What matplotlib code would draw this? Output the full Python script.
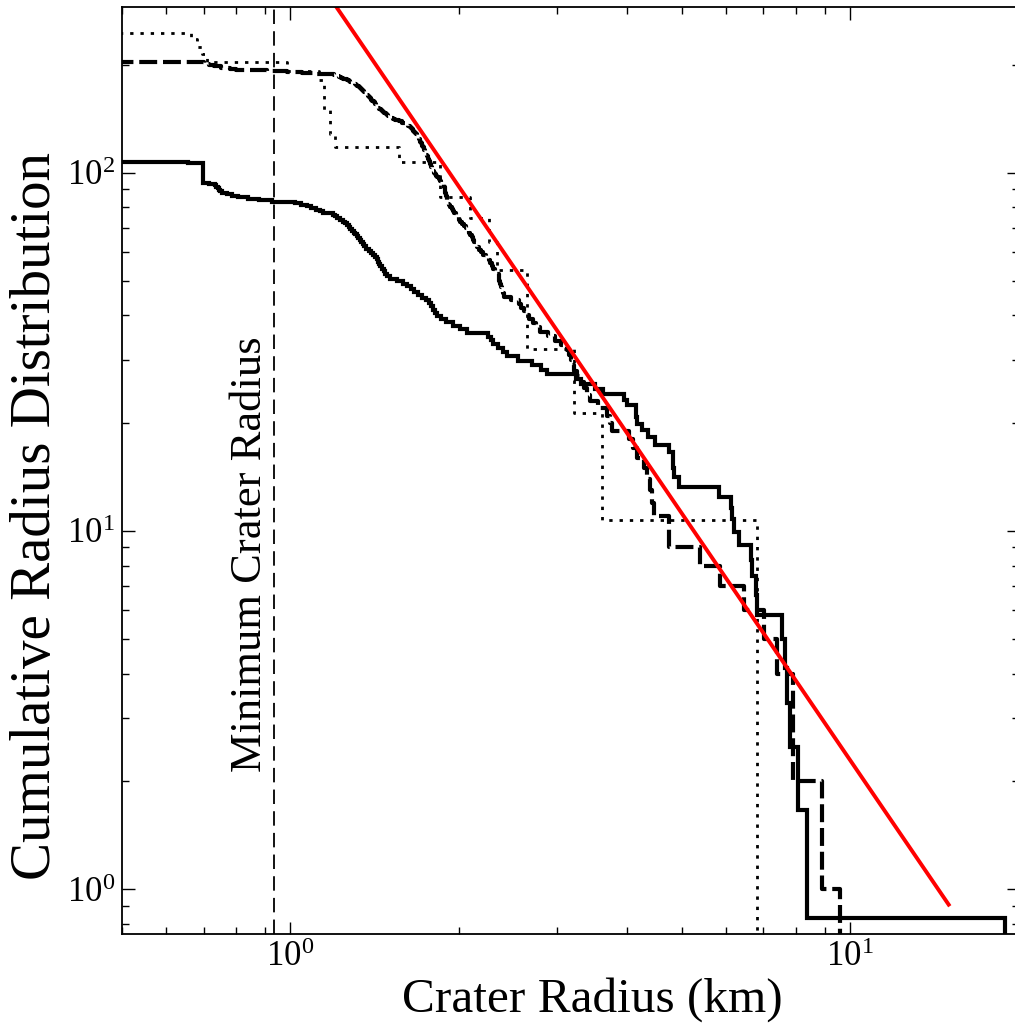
import numpy as np
import matplotlib
matplotlib.use("Agg")
import matplotlib.pyplot as plt

plt.rcParams['font.family'] = ['Liberation Serif', 'DejaVu Serif']
plt.rcParams['mathtext.fontset'] = 'custom'
plt.rcParams['mathtext.rm'] = 'Liberation Serif'
plt.rcParams['mathtext.it'] = 'Liberation Serif:italic'
plt.rcParams['mathtext.bf'] = 'Liberation Serif:bold'

# ---------------- data (crater radii in km) ----------------
solid_radii = [0.657] + [0.697] * 15 + [
    0.715, 0.733, 0.737, 0.741, 0.745, 0.749, 0.753, 0.77, 0.785, 0.805, 0.84, 0.88, 0.925,
    1.02, 1.045, 1.07, 1.09, 1.11, 1.13, 1.145, 1.19, 1.20, 1.21, 1.225,
    1.24, 1.25, 1.26, 1.27, 1.28, 1.29, 1.297, 1.305, 1.315, 1.322, 1.33, 1.338, 1.345, 1.352,
    1.365, 1.38, 1.39, 1.405, 1.415, 1.425, 1.433, 1.44, 1.448, 1.458, 1.468, 1.478, 1.488,
    1.505, 1.55, 1.59, 1.615, 1.64, 1.66, 1.69, 1.72, 1.75, 1.77, 1.785, 1.80, 1.815, 1.828,
    1.86, 1.90, 1.95, 2.01, 2.065, 2.25, 2.28, 2.305, 2.35, 2.40, 2.435, 2.55, 2.70, 2.80, 2.87,
    3.24, 3.31, 3.50, 3.62, 3.95, 3.99, 4.14, 4.15, 4.16, 4.25, 4.35, 4.48, 4.75, 4.82, 4.83,
    4.836, 4.95, 5.84, 6.12, 6.149, 6.20, 6.318, 6.65, 6.674, 6.78, 6.813, 7.55, 7.65, 7.709,
    7.815, 8.054, 8.369, 18.92]
solid_scale = 0.83

dashed_radii = [
    0.70, 0.70, 0.70, 0.715, 0.73, 0.74, 0.75, 0.75, 0.78, 0.80, 0.825, 0.909, 0.987, 1.05, 1.10,
    1.15, 1.195, 1.21, 1.22, 1.23, 1.24, 1.25, 1.26, 1.27, 1.28, 1.297,
    1.303, 1.309, 1.315, 1.32, 1.326, 1.332, 1.338, 1.344, 1.35, 1.355, 1.36, 1.366, 1.371,
    1.376, 1.38, 1.385, 1.39, 1.395, 1.40, 1.405, 1.41, 1.414, 1.418, 1.423, 1.428,
    1.435, 1.442, 1.45, 1.457, 1.464, 1.472, 1.479, 1.487, 1.494, 1.50, 1.509,
    1.525, 1.54, 1.56, 1.58, 1.60, 1.616,
    1.625, 1.632, 1.64, 1.648, 1.655, 1.662, 1.67, 1.677, 1.684,
    1.688, 1.693, 1.697, 1.702, 1.706, 1.71, 1.715, 1.72, 1.724, 1.729, 1.733, 1.738, 1.742,
    1.746, 1.75, 1.755, 1.759, 1.763, 1.768, 1.772, 1.777, 1.781, 1.786, 1.79, 1.795, 1.799, 1.803,
    1.81, 1.82, 1.83, 1.84, 1.85, 1.86, 1.87, 1.878,
    1.882, 1.885, 1.889, 1.892, 1.896, 1.90, 1.903, 1.907, 1.91, 1.914, 1.918,
    1.93, 1.94, 1.95, 1.96, 1.975, 1.985, 1.998,
    2.01, 2.025, 2.04, 2.055, 2.07, 2.082,
    2.095, 2.107, 2.12, 2.132, 2.145, 2.157, 2.169,
    2.19, 2.21, 2.235, 2.26, 2.275, 2.29, 2.305, 2.32, 2.34, 2.355,
    2.362, 2.37, 2.378, 2.387, 2.395, 2.404, 2.48, 2.557, 2.58, 2.61, 2.64, 2.664,
    2.71, 2.75, 2.796, 2.88, 2.973, 3.04, 3.12, 3.15, 3.17, 3.19, 3.205, 3.25, 3.30, 3.341,
    3.39, 3.433, 3.55, 3.678, 3.72, 3.753, 4.019, 4.09, 4.16, 4.274, 4.33, 4.394, 4.43, 4.454,
    4.738, 4.738, 5.396, 5.860, 6.451, 7.003, 7.399, 7.90, 7.90, 8.90, 9.60]
dashed_scale = 1.0

dotted_radii = [0.665, 0.68, 0.695, 0.71, 0.985, 1.123, 1.146, 1.146, 1.146, 1.179, 1.179,
                1.203, 1.561, 1.853, 1.853, 2.096, 2.260, 2.339, 2.647, 2.647, 3.205, 3.603, 6.83]
dotted_scale = 10.7

fit_amplitude = 447.0
fit_slope = -2.29
fit_range = [1.0, 15.0]

min_crater_radius = 0.933
curve_start = 0.4

xlim = (0.5, 20.0)
ylim = (0.75, 290.0)


def cumulative(radii, scale):
    r = np.sort(np.asarray(radii, dtype=float))
    n = len(r)
    xs = np.concatenate([[curve_start], r])
    ys = scale * (n - np.arange(n + 1))
    return xs, ys


fig = plt.figure(figsize=(10.15, 10.27), dpi=100)
ax = fig.add_axes([122 / 1015, 93 / 1027, (1018.6 - 122) / 1015, 927 / 1027])
ax.set_xscale('log', nonpositive='clip')
ax.set_yscale('log', nonpositive='clip')

x, y = cumulative(solid_radii, solid_scale)
ax.step(x, y, where='post', color='black', lw=3.0, solid_joinstyle='miter')
x, y = cumulative(dashed_radii, dashed_scale)
ax.step(x, y, where='post', color='black', lw=3.0, linestyle=(0, (4.3, 1.4)))
x, y = cumulative(dotted_radii, dotted_scale)
ax.step(x, y, where='post', color='black', lw=2.0, linestyle=(0, (1.2, 2.5)))

fx = np.array(fit_range)
ax.plot(fx, fit_amplitude * fx ** fit_slope, color='red', lw=2.8)

ax.axvline(min_crater_radius, color='black', lw=1.3, linestyle=(0, (8, 4)))
ax.text(0.845, 8.64, 'Minimum Crater Radius', rotation=90, ha='center', va='center',
        fontsize=32)

ax.set_xlim(*xlim)
ax.set_ylim(*ylim)
ax.set_xlabel('Crater Radius (km)', fontsize=35.5, va='center')
ax.set_ylabel('Cumulative Radius Distribution', fontsize=41, va='center')
ax.xaxis.set_label_coords((592 - 122) / 896.6, (934 - 1000) / 927)
ax.yaxis.set_label_coords((36 - 122) / 896.6, (934 - 516) / 927)

ax.tick_params(which='both', direction='in', top=True, right=True, width=1.0)
ax.tick_params(which='major', length=9, labelsize=25, pad=5)
ax.tick_params(which='minor', length=5)
for s in ax.spines.values():
    s.set_linewidth(1.3)

fig.savefig('out.png', dpi=100)
